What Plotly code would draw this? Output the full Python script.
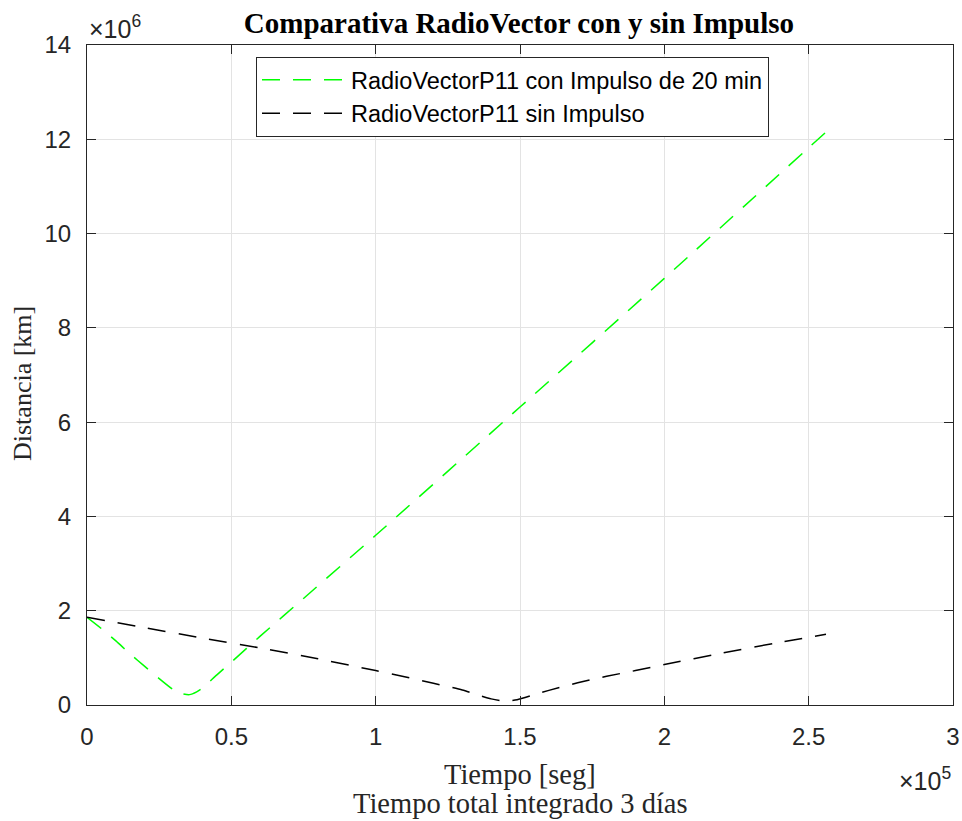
import plotly.graph_objects as go

# Tiempo [x1e5 s] and Distancia [x1e6 km]
t_con = [0, 0.05, 0.1, 0.15, 0.2, 0.25, 0.3, 0.33, 0.355, 0.38, 0.4, 0.45, 0.5, 0.6, 0.75, 1.0, 1.5, 2.0, 2.59]
r_con = [1.86, 1.62, 1.36, 1.08, 0.82, 0.56, 0.32, 0.24, 0.22, 0.28, 0.36, 0.64, 0.91, 1.46, 2.26, 3.60, 6.32, 9.05, 12.32]

t_sin = [0, 0.2, 0.4, 0.6, 0.8, 1.0, 1.1, 1.2, 1.3, 1.36, 1.4, 1.448, 1.49, 1.55, 1.6, 1.7, 1.8, 1.9, 2.0, 2.2, 2.4, 2.56]
r_sin = [1.86, 1.64, 1.42, 1.21, 0.98, 0.73, 0.60, 0.46, 0.32, 0.20, 0.13, 0.08, 0.11, 0.22, 0.31, 0.47, 0.61, 0.73, 0.86, 1.10, 1.33, 1.50]

x_ticks = [0, 0.5, 1, 1.5, 2, 2.5, 3]
x_ticktext = ["0", "0.5", "1", "1.5", "2", "2.5", "3"]
y_ticks = [0, 2, 4, 6, 8, 10, 12, 14]
y_ticktext = ["0", "2", "4", "6", "8", "10", "12", "14"]

XS = 1e5
YS = 1e6

AX = "#262626"
GRID = "#e3e3e3"
SANS = "Liberation Sans, Arial, sans-serif"
SERIF = "Liberation Serif, Times New Roman, serif"
DASH = "18px,13px"

fig = go.Figure()
fig.add_trace(go.Scatter(
    x=[v * XS for v in t_con], y=[v * YS for v in r_con], mode="lines",
    name="RadioVectorP11 con Impulso de 20 min",
    line=dict(color="#00ff00", width=1.5, dash=DASH, shape="spline", smoothing=0.6)))
fig.add_trace(go.Scatter(
    x=[v * XS for v in t_sin], y=[v * YS for v in r_sin], mode="lines",
    name="RadioVectorP11 sin Impulso",
    line=dict(color="black", width=1.5, dash=DASH, shape="spline", smoothing=0.6)))

axis_common = dict(
    showline=True, linecolor=AX, linewidth=1, mirror="allticks",
    ticks="inside", ticklen=9, tickcolor=AX, tickwidth=1,
    showgrid=True, gridcolor=GRID, gridwidth=1, zeroline=False,
    tickfont=dict(family=SANS, size=24, color=AX), automargin=False,
)

fig.update_layout(
    width=962, height=821, autosize=False,
    margin=dict(l=87, r=9, t=45, b=116),
    paper_bgcolor="white", plot_bgcolor="white",
    showlegend=True,
    legend=dict(
        x=(256 - 87) / 866, y=(705 - 57) / 660, xanchor="left", yanchor="top",
        bgcolor="white", bordercolor=AX, borderwidth=1,
        font=dict(family=SANS, size=23.5, color="black"),
        itemwidth=84, tracegroupgap=0,
    ),
    title=dict(
        text="<b>Comparativa RadioVector con y sin Impulso</b>",
        x=0.5395, xanchor="center", y=1 - 23 / 821, yanchor="middle", yref="container",
        font=dict(family=SERIF, size=29, color="black"),
    ),
    xaxis=dict(range=[0, 3 * XS], tickvals=[v * XS for v in x_ticks], ticktext=x_ticktext,
               ticklabelstandoff=10, **axis_common),
    yaxis=dict(range=[0, 14 * YS], tickvals=[v * YS for v in y_ticks], ticktext=y_ticktext,
               ticklabelstandoff=10, **axis_common),
)

fig.add_annotation(text="Distancia [km]", textangle=-90, xref="paper", yref="paper",
                   x=(22 - 87) / 866, y=(705 - 384) / 660, xanchor="center", yanchor="middle", showarrow=False,
                   font=dict(family=SERIF, size=26, color=AX))
fig.add_annotation(text="Tiempo [seg]", xref="paper", yref="paper",
                   x=0.5, y=(705 - 774) / 660, xanchor="center", yanchor="middle", showarrow=False,
                   font=dict(family=SERIF, size=28.5, color=AX))
fig.add_annotation(text="Tiempo total integrado 3 días", xref="paper", yref="paper",
                   x=0.5, y=(705 - 803) / 660, xanchor="center", yanchor="middle", showarrow=False,
                   font=dict(family=SERIF, size=28.5, color=AX))
fig.add_annotation(text="×10<sup>6</sup>", xref="paper", yref="paper",
                   x=0, y=(705 - 27) / 660, xanchor="left", yanchor="middle", showarrow=False,
                   font=dict(family=SANS, size=25, color=AX))
fig.add_annotation(text="×10<sup>5</sup>", xref="paper", yref="paper",
                   x=1, y=(705 - 779) / 660, xanchor="right", yanchor="middle", showarrow=False,
                   font=dict(family=SANS, size=25, color=AX))

fig.write_html("out.html")
